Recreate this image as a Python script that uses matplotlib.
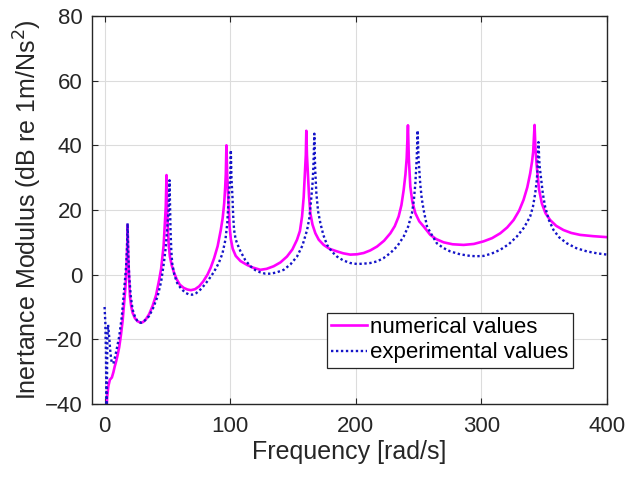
import numpy as np
import matplotlib
matplotlib.use('Agg')
import matplotlib.pyplot as plt

plt.rcParams['font.family'] = ['Liberation Sans', 'DejaVu Sans']

# numerical values (magenta)
f_num = [1.2, 2.0, 3.0, 4.2, 5.8, 7.0, 8.0, 9.2, 10.3, 11.6, 12.9, 14.3, 15.6, 16.4, 17.0, 17.5,
         17.8, 18.1, 18.3,
         18.8, 19.4, 20.2, 21.2, 22.3, 24.2, 26.2, 28.9, 30.8, 32.9, 35.5, 38.2, 41.0, 43.5,
         45.0, 46.1, 47.0, 47.7, 48.3, 48.7, 49.3,
         49.8, 50.4, 51.1, 52.0, 53.5, 55.4, 57.5, 59.9, 63.0, 66.0, 68.7, 72.0, 75.3, 78.5,
         81.9, 84.5, 87.2, 90.0, 92.5, 94.0, 95.2, 96.0, 96.5, 97.0,
         97.6, 98.6, 99.5, 100.5, 102.0, 104.4, 108.2, 113.5, 118.0, 124.0, 129.0, 134.6,
         140.0, 145.2,
         149.5, 153.2, 155.5, 157.2, 158.5, 159.3, 160.2, 160.6,
         161.1, 162.0, 162.8, 163.8, 165.5, 167.8, 170.5, 174.4, 179.0, 185.0, 190.0, 195.6,
         201.0, 206.3, 211.5, 216.9, 222.5, 227.5, 231.0, 234.1, 236.3, 238.1, 239.5, 240.5,
         241.5,
         242.2, 243.4, 245.0, 247.4, 250.5, 254.0, 259.3, 264.0, 269.9, 277.0, 285.8, 294.0,
         301.7, 308.5, 315.0, 320.5, 325.6, 330.0, 333.5, 336.5, 338.8, 340.3, 341.2, 342.3,
         343.0, 344.1, 345.8, 348.1, 351.0, 354.7, 359.5, 365.3, 371.5, 378.6, 389.0, 400.0]
db_num = [-48, -38, -34.5, -32.5, -31.8, -30.2, -28.5, -26.8, -25, -22.5, -19, -14.5, -8.7, -5,
          -1.5, 2.5, 6, 10, 15.4,
          6, 0, -6.7, -9.8, -11.8, -13.5, -14.4, -14.9, -14.6, -13.8, -12.2, -9.7, -6.3, -1.5,
          1.8, 5.6, 9, 13.8, 18, 21, 30.8,
          21, 13.8, 9, 5.6, 2.8, 0.5, -1.5, -3.1, -4.1, -4.6, -4.8, -4.5, -3.6, -2.1,
          0, 2.2, 5.1, 8.8, 13.8, 17.5, 22, 27, 31, 40,
          31, 22, 15, 11, 8, 5.8, 4.2, 3.0, 2.2, 1.5, 1.8, 2.6,
          3.8, 5.6,
          7.8, 10.8, 13.5, 18, 24, 30.3, 37, 44.5,
          37, 30.3, 24, 19, 15.5, 12.8, 10.8, 9.2, 8.0, 7.2, 6.6, 6.2,
          6.3, 6.7, 7.5, 8.7, 10.5, 12.8, 15, 18, 21.5, 26.2, 31, 36,
          46.2,
          36, 27.2, 22.5, 19, 16.5, 14.9, 12.3, 11, 10, 9.4, 9.2, 9.5,
          10.3, 11.3, 12.8, 14.6, 16.9, 19.8, 23.1, 27, 31.3, 35, 38, 46.3,
          39, 33.3, 26.5, 22, 19, 16.9, 15.1, 13.8, 12.9, 12.3, 11.9, 11.6]

# experimental values (blue dotted)
f_exp = [0.0, 0.6, 1.1, 1.6, 2.2, 2.8, 3.6, 4.6, 5.6, 7.0, 8.6, 10.2, 11.7, 13.7, 15.6, 16.5,
         17.2, 17.8, 18.3,
         18.9, 19.6, 20.8, 22.3, 24.2, 26.2, 28.9, 32.0, 35.5, 38.8, 42.2, 45.0, 47.2, 48.7,
         49.8, 51.0, 51.7,
         52.2, 52.5, 53.1, 53.8, 55.5, 57.8, 61.0, 64.4, 67.0, 69.7, 73.0, 76.3, 79.5, 82.9,
         87.0, 90.9, 93.8, 96.2, 97.7, 98.8, 100.0, 100.5,
         101.0, 101.8, 102.4, 103.1, 104.3, 105.7, 108.2, 112.0, 116.1, 120.0, 124.0, 128.0,
         132.0, 137.0, 142.6, 148.0, 153.2, 157.5, 161.2, 163.0, 164.4, 165.5, 166.2, 167.0,
         167.6, 168.6, 170.0, 171.8, 174.2, 177.1, 181.0, 185.0, 190.0, 195.6, 201.0, 206.3,
         211.5, 216.9, 222.0, 227.5, 233.0, 238.1, 241.6, 244.7, 246.2, 247.4, 248.5, 249.2,
         249.9, 251.3, 252.5, 254.0, 256.6, 259.4, 264.5, 269.5, 275.1, 283.0, 291.0, 296.0,
         301.7, 308.0, 315.0, 322.0, 328.2, 334.0, 338.8, 341.0, 342.8, 344.0, 344.6, 345.4,
         346.2, 347.3, 348.9, 350.7, 353.8, 357.4, 362.0, 368.0, 375.5, 383.9, 392.0, 400.0]
db_exp = [-10, -15, -24, -48, -20, -15.5, -19, -24, -27, -27.5, -25, -22, -19, -13, -4.6, -0.5,
          3, 8, 15.9,
          6, -0.5, -6.5, -10.8, -13, -14.4, -14.9, -14.2, -12.8, -10.2, -6.7, -2.2, 3.6, 8.5,
          13.8, 20, 29.2,
          20, 13.8, 7.5, 3.6, 0, -2.6, -4.4, -5.6, -6.1, -6.2, -5.7, -4.6, -3.2, -1.5,
          0.8, 3.6, 6.5, 10.8, 16, 24.1, 30, 38.5,
          30, 24, 18, 13.8, 11, 9.5, 7.2, 4.5, 2.6, 1.4, 0.7, 0.3,
          0.3, 0.7, 1.5, 3.2, 5.6, 9, 13.8, 17.5, 23.1, 28, 33, 43.6,
          33, 25.1, 19.5, 15.9, 12.2, 9.2, 7.1, 5.6, 4.4, 3.6, 3.3, 3.4,
          3.6, 4.1, 5.1, 6.7, 8.8, 11.8, 14.8, 19, 23, 28.2, 36, 44.6,
          36, 28, 23.5, 20, 15, 13, 9.7, 8.3, 7.2, 6.3, 5.8, 5.7,
          5.8, 6.5, 7.7, 9.5, 11.8, 14.6, 18, 21, 25.1, 29, 32, 41,
          34, 30.3, 25, 21, 16.8, 13.8, 11.5, 9.7, 8.2, 7.2, 6.6, 6.2]

fig = plt.figure(figsize=(6.29, 4.79), dpi=100)
ax = fig.add_axes([0.1463, 0.1566, 0.8188, 0.810])

ax.plot(f_num, db_num, color='#ff00ff', lw=1.9, label='numerical values')
ax.plot(f_exp, db_exp, color='#1414c8', lw=1.7, linestyle=(0, (1, 1.1)),
        label='experimental values')

ax.set_xlim(-10, 400)
ax.set_ylim(-40, 80)
ax.set_xticks([0, 100, 200, 300, 400])
ax.set_yticks(np.arange(-40, 81, 20))
ax.grid(True, color='#dcdcdc', lw=0.8)
ax.set_axisbelow(True)
ax.tick_params(direction='in', top=True, right=True, labelsize=16, colors='#262626',
               length=4, width=0.8)
ax.tick_params(axis='x', pad=9)
ax.tick_params(axis='y', pad=7)
for s in ax.spines.values():
    s.set_color('#262626')
    s.set_linewidth(1.0)

ax.set_xlabel('Frequency [rad/s]', fontsize=18, color='#262626', labelpad=2)
ax.set_ylabel('Inertance Modulus (dB re 1m/Ns$^2$)', fontsize=18, color='#262626')
ax.yaxis.set_label_coords(-0.094, 0.5)

leg = ax.legend(loc='lower right', bbox_to_anchor=(0.934, 0.093), fontsize=16,
                fancybox=False, framealpha=1, edgecolor='#262626', handlelength=1.6,
                handletextpad=0.15, borderpad=0.2, labelspacing=0.2, borderaxespad=0)
leg.get_frame().set_linewidth(0.9)

plt.savefig('out.png', dpi=100)
